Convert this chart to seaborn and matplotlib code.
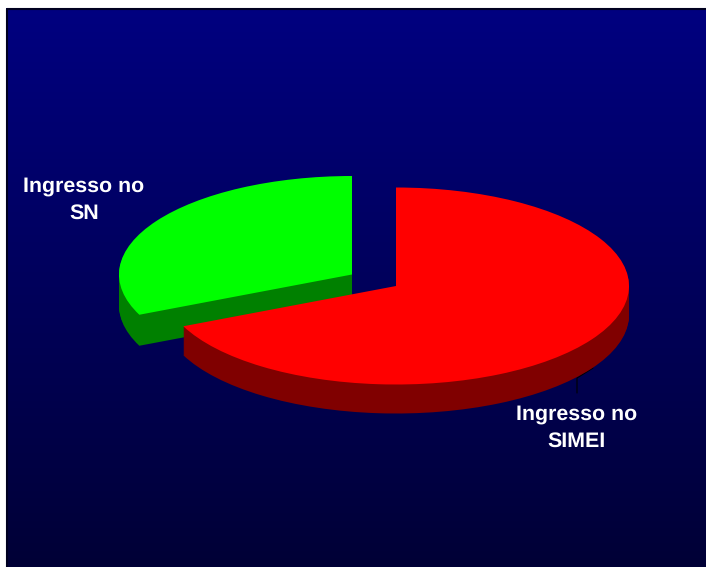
import numpy as np
import matplotlib
matplotlib.use("Agg")
import matplotlib.pyplot as plt
import seaborn as sns

categories = ["Ingresso no\nSIMEI", "Ingresso no\nSN"]
shares = [68.3, 31.7]
top_colors = ["#ff0000", "#00ff00"]
wall_colors = ["#800000", "#008000"]

W, H = 706, 567
RX, RY = 233.0, 98.5
depths = [29, 31]
centers = [(396, 286), (352, 274.5)]
label_pos = [(577, 427.5), (84, 199.5)]

sns.set_theme(style="white")
plt.rcParams["font.family"] = ["Liberation Sans", "DejaVu Sans"]
plt.rcParams["text.hinting"] = "none"

fig = plt.figure(figsize=(W / 100, H / 100), dpi=100, facecolor="white")
ax = fig.add_axes([0, 0, 1, 1])


def dx(p):
    return p / RX


def dy(p):
    return (H - p) / RY


def draw_slice(i):
    cx, cy = centers[i]
    for d in list(range(depths[i], 0, -1)) + [0]:
        col = top_colors[i] if d == 0 else wall_colors[i]
        colors = ["none", "none"]
        colors[i] = col
        ax.pie(shares, colors=colors, startangle=90, counterclock=False, radius=1,
               center=(dx(cx), dy(cy + d)),
               wedgeprops=dict(linewidth=0), frame=False)


# background gradient
grad = sns.blend_palette(["#000080", "#000036"], as_cmap=True)
ax.imshow(np.linspace(0, 1, 256)[:, None], cmap=grad, aspect="auto", zorder=-5,
          extent=(dx(6), dx(W + 2), dy(H), dy(8)))
ax.plot([dx(6.5), dx(6.5), dx(W + 2)], [dy(H), dy(8.5), dy(8.5)],
        color="#000020", lw=1.5, zorder=-4)

draw_slice(1)
draw_slice(0)

# leader line of the lower label
ax.plot([dx(577), dx(577), dx(593)], [dy(393), dy(378), dy(368)],
        color="black", lw=0.8, zorder=-3)

for name, (x, y) in zip(categories, label_pos):
    ax.text(dx(x), dy(y), name, color="white", fontsize=15.4, fontweight="bold",
            ha="center", va="center", linespacing=1.51)

ax.set_xlim(0, W / RX)
ax.set_ylim(0, H / RY)
ax.set_aspect("auto")
ax.axis("off")
fig.savefig("out.png", dpi=100, facecolor="white")
